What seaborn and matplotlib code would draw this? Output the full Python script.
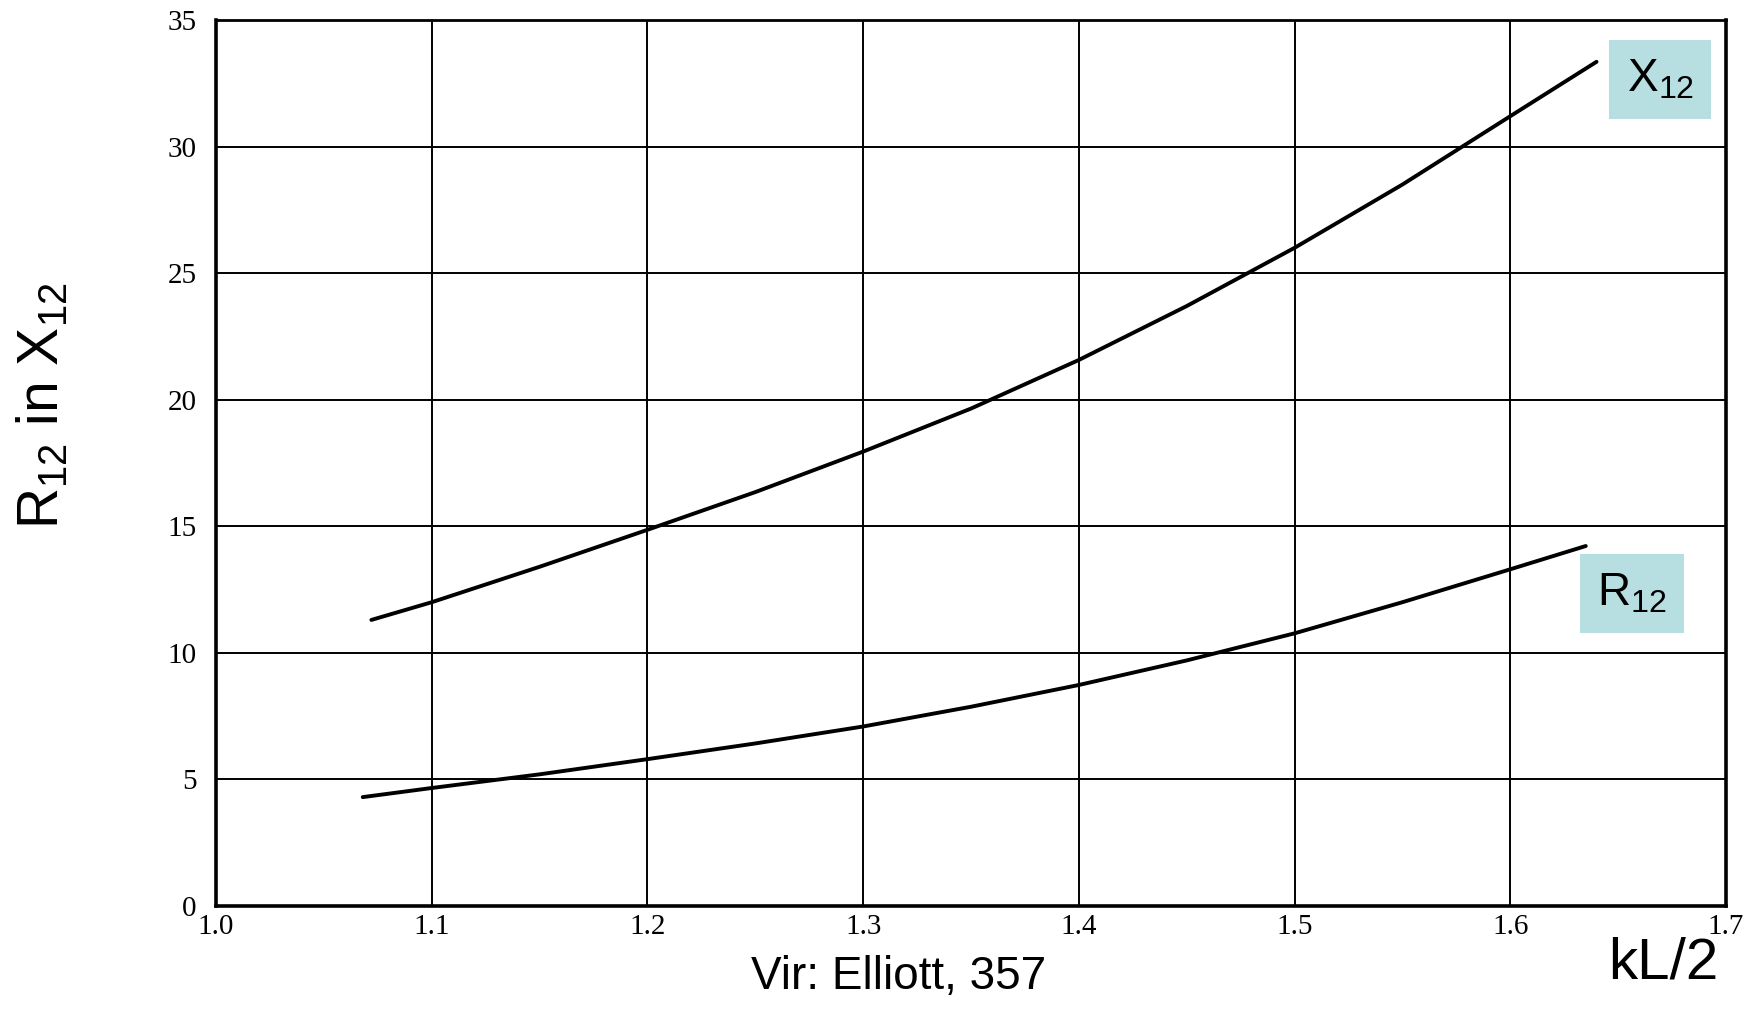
import matplotlib
matplotlib.use("Agg")
import matplotlib.pyplot as plt
import seaborn as sns
import pandas as pd

# Mutual impedance of two parallel dipoles vs. half electrical length kL/2
kl_x = [1.072, 1.10, 1.15, 1.20, 1.25, 1.30, 1.35, 1.40, 1.45, 1.50, 1.55, 1.60, 1.640]
x12 = [11.3, 12.0, 13.4, 14.86, 16.35, 17.95, 19.65, 21.57, 23.7, 26.0, 28.5, 31.2, 33.35]

kl_r = [1.068, 1.10, 1.15, 1.20, 1.25, 1.30, 1.35, 1.40, 1.45, 1.50, 1.55, 1.60, 1.635]
r12 = [4.3, 4.66, 5.2, 5.8, 6.42, 7.09, 7.87, 8.73, 9.7, 10.77, 12.0, 13.3, 14.22]

x_ticks = [1.0, 1.1, 1.2, 1.3, 1.4, 1.5, 1.6, 1.7]
x_tick_labels = ["1.0", "1.1", "1.2", "1.3", "1.4", "1.5", "1.6", "1.7"]
y_ticks = [0, 5, 10, 15, 20, 25, 30, 35]
y_tick_labels = ["0", "5", "10", "15", "20", "25", "30", "35"]

df = pd.concat([
    pd.DataFrame({"kL/2": kl_x, "value": x12, "curve": "X12"}),
    pd.DataFrame({"kL/2": kl_r, "value": r12, "curve": "R12"}),
])

sns.set_theme(style="white")
plt.rcParams["font.family"] = ["Liberation Sans", "DejaVu Sans"]
plt.rcParams["mathtext.fontset"] = "custom"
plt.rcParams["mathtext.rm"] = "Liberation Sans"
plt.rcParams["mathtext.it"] = "Liberation Sans:italic"
plt.rcParams["text.color"] = "black"

fig = plt.figure(figsize=(17.61, 10.11), dpi=100)
ax = fig.add_axes([0.1227, 0.1039, 0.8574, 0.8763])

sns.lineplot(data=df, x="kL/2", y="value", units="curve", estimator=None,
             color="black", linewidth=2.8, sort=True, ax=ax, legend=False)

ax.set_xlim(1.0, 1.7)
ax.set_ylim(0, 35)
ax.set_xticks(x_ticks)
ax.set_yticks(y_ticks)
ax.set_xticklabels(x_tick_labels)
ax.set_yticklabels(y_tick_labels)
ax.tick_params(axis="both", length=0, labelsize=21, labelcolor="black")
ax.tick_params(axis="x", pad=6)
ax.tick_params(axis="y", pad=14)
for lab in ax.get_xticklabels() + ax.get_yticklabels():
    lab.set_fontfamily(["Liberation Serif", "DejaVu Serif"])

ax.grid(True, color="black", linewidth=1.4)
ax.set_axisbelow(True)
for side in ["left", "bottom", "right", "top"]:
    ax.spines[side].set_visible(True)
    ax.spines[side].set_color("black")
    ax.spines[side].set_linewidth(2.6)
ax.spines["top"].set_linewidth(2.0)

ax.set_xlabel("")
ax.set_ylabel(r"R$_{\mathregular{12}}$ in X$_{\mathregular{12}}$", fontsize=41, color="black")
ax.yaxis.set_label_coords(-0.097, 0.565)

box = dict(boxstyle="square,pad=0.38", facecolor="#b7dfe2", edgecolor="none")
ax.text(1.6695, 32.65, r"X$_{\mathregular{12}}$", fontsize=33, ha="center", va="center",
        bbox=box, color="black")
ax.text(1.6565, 12.35, r"R$_{\mathregular{12}}$", fontsize=33, ha="center", va="center",
        bbox=box, color="black")

narrow = ["Liberation Sans Narrow", "Liberation Sans", "DejaVu Sans"]
fig.text(0.510, 0.022, "Vir: Elliott, 357", fontsize=33, family=narrow,
         ha="center", va="baseline", color="black")
fig.text(0.976, 0.032, "kL/2", fontsize=42, family=narrow,
         ha="right", va="baseline", color="black")

fig.savefig("out.png", dpi=100)
